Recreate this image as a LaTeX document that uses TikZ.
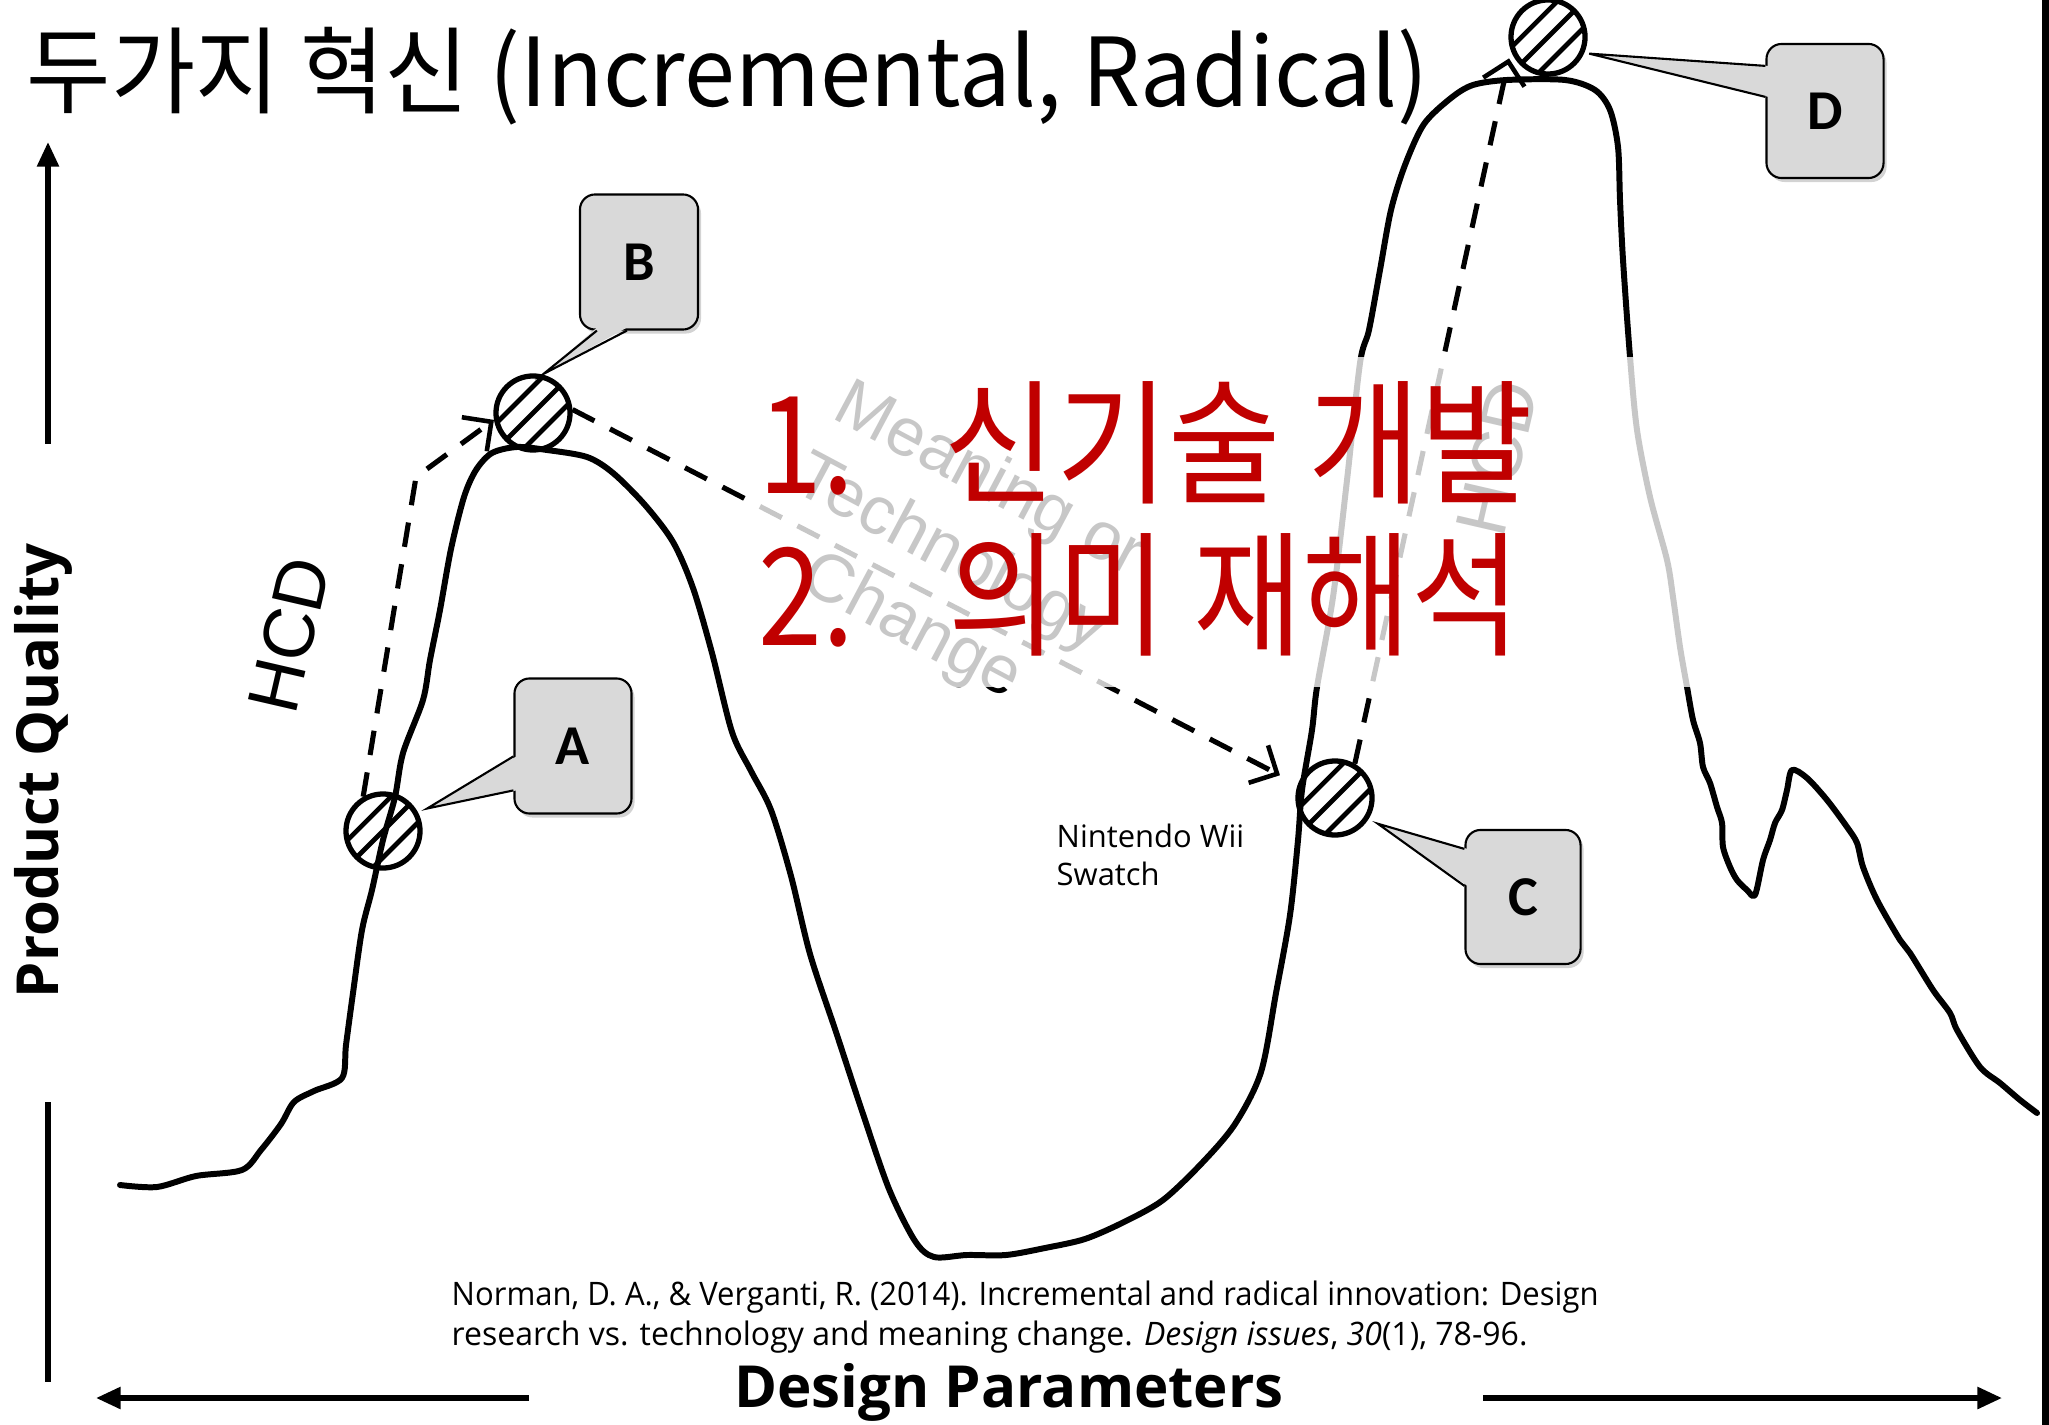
\documentclass[tikz,border=0pt]{standalone}
\usepackage{fontspec}
\usetikzlibrary{arrows.meta,calc,shadows}
\setmainfont{Open Sans}
\newfontfamily\krfont{Noto Sans CJK KR}
\newfontfamily\osans{Open Sans}
\newfontfamily\arialf{Liberation Sans}
\newfontfamily\calib{Carlito}
\definecolor{myred}{HTML}{C00000}
\definecolor{callgray}{HTML}{D9D9D9}
\tikzset{
  curveline/.style={line width=1.7pt, line join=round, line cap=round},
  axisline/.style={line width=1.5pt},
  axisarrow/.style={axisline, -{Triangle[length=7pt,width=6pt]}},
  hcdarrow/.style={line width=1.45pt, dash pattern=on 7pt off 5pt,
     -{Straight Barb[length=6pt,width=12pt,line width=1.3pt]}},
  hatchpt/.style={circle, draw, line width=1.5pt, minimum size=0.74cm, inner sep=0pt,
     path picture={\foreach \k in {-3,...,3}{\draw[line width=1.35pt]
        ([shift={({\k*13.2-45},{\k*13.2+45})}]path picture bounding box.center) -- ++(90,-90);}}},
  callbox/.style={draw, line width=0.6pt, fill=callgray, rounded corners=4.3pt, inner sep=0pt,
     font=\calib\bfseries\fontsize{16pt}{19pt}\selectfont,
     drop shadow={shadow xshift=0.03cm, shadow yshift=-0.04cm, opacity=0.35}},
  pointerside/.style={line width=0.6pt, line join=miter},
  lefttext/.style={anchor=base west, inner sep=0pt},
}
\begin{document}
\begin{tikzpicture}[x=0.01cm,y=-0.01cm]
\useasboundingbox (0,0) rectangle (2049,1425);

% axes
\coordinate (yTop) at (48,142); \coordinate (yA) at (48,444);
\coordinate (yB) at (48,1102); \coordinate (yBot) at (48,1382);
\draw[axisarrow] (yA) -- (yTop);
\draw[axisline] (yB) -- (yBot);
\coordinate (xL) at (96,1398); \coordinate (xLs) at (529,1398);
\coordinate (xRs) at (1483,1398); \coordinate (xR) at (2002,1398);
\draw[axisarrow] (xLs) -- (xL);
\draw[axisarrow] (xRs) -- (xR);

% landscape curve
\draw[curveline] plot[smooth, tension=0.5] coordinates {
(120,1185) (157,1187) (196,1176) (242,1170) (261,1150) (281,1124) (294,1102) (314,1091)
(342,1078) (346,1045) (353,993) (362,930) (372,890) (383,840) (395,797) (403,753) (423,700)
(430,660) (440,610) (451,549) (464,497) (476,470) (492,453) (517,447) (547,450) (587,457)
(613,473) (645,505) (673,542) (693,588) (712,653) (732,732) (751,771) (771,810) (791,876)
(810,954) (836,1032) (862,1111) (889,1189) (915,1241) (934,1257) (967,1255) (1006,1255)
(1045,1248) (1085,1239) (1124,1222) (1163,1200) (1202,1163) (1235,1124) (1261,1072)
(1276,993) (1290,915) (1298,840) (1302,790) (1312,730) (1317,687) (1333,597) (1347,480)
(1360,363) (1369,330) (1380,270) (1391,210) (1405,165) (1424,124) (1451,98) (1473,85)
(1507,80) (1565,80) (1595,90) (1610,110) (1618,147) (1620,200) (1623,260) (1630,357)
(1637,430) (1650,497) (1667,560) (1673,597) (1680,647) (1687,687) (1693,720) (1700,743)
(1703,767) (1710,783) (1717,807) (1722,823) (1723,847) (1730,867) (1737,880) (1747,890)
(1755,895) (1763,860) (1770,840) (1775,823) (1782,810) (1787,790) (1792,770) (1807,778)
(1827,800) (1847,827) (1857,843) (1863,867) (1877,900) (1900,940) (1910,953) (1933,990)
(1950,1013) (1957,1030) (1980,1067) (2000,1083) (2020,1100) (2037,1113)};

% points
\node[hatchpt] (pA) at (383,831) {};
\node[hatchpt] (pB) at (533,413) {};
\node[hatchpt] (pC) at (1335,798) {};
\node[hatchpt] (pD) at (1548,37) {};

% dashed paths
\coordinate (kAB) at (416,477);
\draw[hcdarrow] (pA.120) -- (kAB) -- (pB.190);
\draw[hcdarrow, shorten >=0.2cm] (pB.5) -- (pC.160);
\draw[hcdarrow, shorten >=0.08cm] (pC.60) -- (pD.200);

% labels on paths
\node[rotate=77, font=\arialf\fontsize{20.5pt}{24pt}\selectfont] (hcd1) at (289,635) {HCD};
\node[rotate=77, font=\arialf\fontsize{20.5pt}{24pt}\selectfont] (hcd2) at (1497,458) {HCD};
\node[rotate=-28, align=center, font=\arialf\fontsize{19.3pt}{23.6pt}\selectfont] (mtc) at (950,555)
  {Meaning or\\Technology\\Change};

% callouts
\node[callbox, minimum width=1.18cm, minimum height=1.35cm] (cB) at (639,262) {B};
\coordinate (tB) at ($(pB)!1.02!(pB.75)$);
\fill[callgray] ($(cB.south west)+(18,-3)$) -- (tB) -- ($(cB.south west)+(48,-3)$) -- cycle;
\draw[pointerside] ($(cB.south west)+(18,0)$) -- (tB) -- ($(cB.south west)+(48,0)$);

\node[callbox, minimum width=1.17cm, minimum height=1.35cm] (cA) at (573,746) {A};
\coordinate (tA) at ($(pA)!1.25!(pA.27)$);
\fill[callgray] ($(cA.north west)+(3,79)$) -- (tA) -- ($(cA.north west)+(3,113)$) -- cycle;
\draw[pointerside] ($(cA.north west)+(0,79)$) -- (tA) -- ($(cA.north west)+(0,113)$);

\node[callbox, minimum width=1.15cm, minimum height=1.34cm] (cC) at (1523,897) {C};
\coordinate (tC) at ($(pC)!1.26!(pC.-31)$);
\fill[callgray] ($(cC.north west)+(3,20)$) -- (tC) -- ($(cC.north west)+(3,57)$) -- cycle;
\draw[pointerside] ($(cC.north west)+(0,20)$) -- (tC) -- ($(cC.north west)+(0,57)$);

\node[callbox, minimum width=1.17cm, minimum height=1.34cm] (cD) at (1825,111) {D};
\coordinate (tD) at ($(pD)!1.12!(pD.-22)$);
\fill[callgray] ($(cD.north west)+(3,23)$) -- (tD) -- ($(cD.north west)+(3,54)$) -- cycle;
\draw[pointerside] ($(cD.north west)+(0,23)$) -- (tD) -- ($(cD.north west)+(0,54)$);

% translucent text box
\fill[white, opacity=0.78] (750,357) rectangle (1760,687);

% red text
\node[lefttext, text=myred, font=\krfont\fontsize{38.5pt}{45pt}\selectfont] (r1n) at (758,494) {\scalebox{0.85}[1]{1.}};
\node[lefttext, text=myred, font=\krfont\fontsize{38.5pt}{45pt}\selectfont] (r1t) at (943,494) {\resizebox{167.6pt}{\height}{신기술 개발}};
\node[lefttext, text=myred, font=\krfont\fontsize{38.5pt}{45pt}\selectfont] (r2n) at (758,645) {\scalebox{0.85}[1]{2.}};
\node[lefttext, text=myred, font=\krfont\fontsize{38.5pt}{45pt}\selectfont] (r2t) at (948,645) {\resizebox{162.5pt}{\height}{의미 재해석}};

% title
\node[lefttext, font=\krfont\fontsize{27pt}{31pt}\selectfont] (title) at (26,107)
  {\resizebox{398.6pt}{\height}{두가지 혁신 (Incremental, Radical)}};

% small texts
\node[lefttext, font=\osans\fontsize{8.8pt}{10pt}\selectfont] (nw) at (1056,847) {Nintendo Wii};
\node[lefttext, font=\osans\fontsize{8.8pt}{10pt}\selectfont] (sw) at (1056,885) {Swatch};
\node[lefttext, font=\osans\fontsize{9.2pt}{10pt}\selectfont] (cit1) at (451,1305)
  {\resizebox{326.1pt}{\height}{Norman, D. A., \& Verganti, R. (2014). Incremental and radical innovation: Design}};
\node[lefttext, font=\osans\fontsize{9.2pt}{10pt}\selectfont] (cit2) at (451,1345)
  {\resizebox{305.9pt}{\height}{research vs. technology and meaning change. \textit{Design issues}, \textit{30}(1), 78-96.}};

% axis labels
\node[anchor=base, inner sep=0pt, font=\osans\bfseries\fontsize{16.5pt}{18pt}\selectfont] (xlab) at (1009,1407)
  {\resizebox{156.2pt}{\height}{Design Parameters}};
\node[rotate=90, inner sep=0pt, font=\osans\bfseries\fontsize{16.5pt}{18pt}\selectfont] (ylab) at (43,771)
  {\resizebox{129.2pt}{\height}{Product Quality}};

% right edge bar
\fill (2042,0) rectangle (2049,1425);
\end{tikzpicture}
\end{document}
